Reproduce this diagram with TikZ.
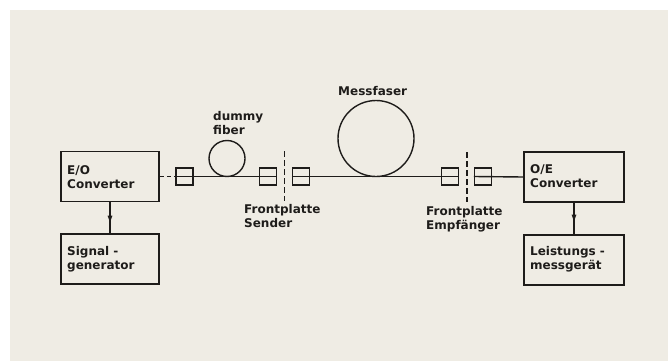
\documentclass[tikz,border=0pt]{standalone}
\usepackage{fontspec}
\newfontfamily\lab{DejaVu Sans}[BoldFont=DejaVu Sans Bold]
\usetikzlibrary{arrows.meta,calc}
\definecolor{paper}{RGB}{239,236,228}
\definecolor{ink}{RGB}{30,28,26}
\begin{document}
\begin{tikzpicture}[x=1pt,y=-1pt,
  unit/.style={draw=ink,line width=1.5pt,minimum width=98pt,minimum height=50pt,inner sep=0pt},
  plug/.style={draw=ink,line width=1.4pt,minimum width=17pt,minimum height=17pt,inner sep=0pt},
  lbl/.style={font=\fontsize{12}{13.8}\selectfont\lab\bfseries,text=ink,align=left,anchor=base west,inner sep=0pt},
  fiber/.style={draw=ink,line width=1.4pt},
  panel/.style={draw=ink,line width=1.4pt,dash pattern=on 6pt off 3pt},
  flow/.style={draw=ink,line width=1.4pt,-{Latex[length=9pt,width=5pt]}}
]
\useasboundingbox (0,0) rectangle (668,361);
\fill[white] (0,0) rectangle (668,361);
\fill[paper] (10,10) rectangle (668,361);

% units
\node[unit] (eo) at (110,176.5) {};
\node[unit] (sg) at (110,259) {};
\node[unit,minimum width=100pt] (oe) at (574,177) {};
\node[unit,minimum width=100pt] (lm) at (574,260) {};

% plugs
\node[plug] (c1) at (184.5,176.5) {};
\node[plug] (c2) at (268,176.5) {};
\node[plug] (c3) at (301,176.5) {};
\node[plug] (c4) at (450,176.5) {};
\node[plug] (c5) at (483,176.5) {};

% fiber runs
\draw[fiber,dash pattern=on 4pt off 3pt] (eo.east) -- (c1.west);
\draw[fiber] (c1.west) -- (c2.east);
\draw[fiber] (c3.west) -- (c4.east);
\draw[fiber] (c5.west) -- (oe.west);

% fiber coils
\coordinate (dmy) at (227,158.5);
\coordinate (mes) at (376,138.5);
\draw[fiber] (dmy) circle[radius=18pt];
\draw[fiber] (mes) circle[radius=38pt];

% front panels
\coordinate (ps1) at (284.5,151);
\coordinate (ps2) at (284.5,201);
\coordinate (pe1) at (467,152);
\coordinate (pe2) at (467,202);
\draw[panel] (ps1) -- (ps2);
\draw[panel] (pe1) -- (pe2);

% signal flow
\draw[fiber] (eo.south) -- (sg.north);
\draw[flow] (eo.south) -- ($(eo.south)!0.72!(sg.north)$);
\draw[fiber] (oe.south) -- (lm.north);
\draw[flow] (oe.south) -- ($(oe.south)!0.66!(lm.north)$);

% labels (anchored at the baseline of the last line)
\node[lbl] (teo) at (67,188) {E/O\\Converter};
\node[lbl] (tsg) at (67,269.5) {Signal -\\generator};
\node[lbl] (toe) at (530,187.5) {O/E\\Converter};
\node[lbl] (tlm) at (530,269) {Leistungs -\\messgerät};
\node[lbl] (tdm) at (213,134) {dummy\\fiber};
\node[lbl] (tms) at (338,95) {Messfaser};
\node[lbl] (tfs) at (244,227) {Frontplatte\\Sender};
\node[lbl] (tfe) at (426,229) {Frontplatte\\Empfänger};
\end{tikzpicture}
\end{document}
